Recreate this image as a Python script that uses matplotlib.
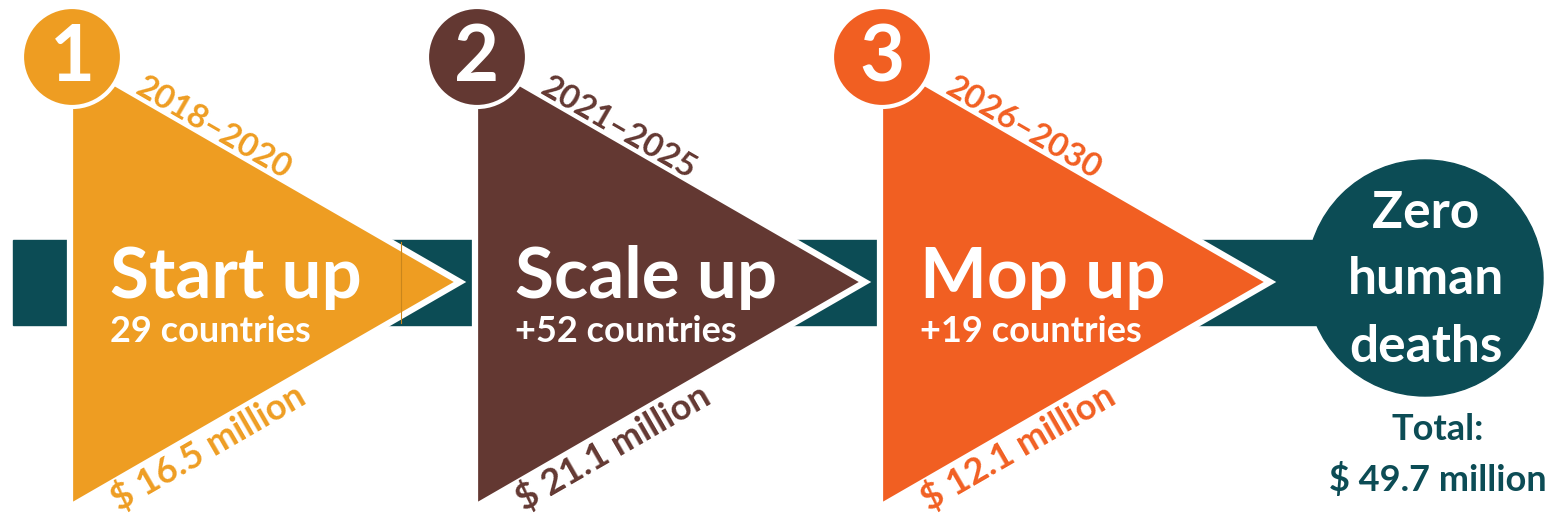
import matplotlib.pyplot as plt
import matplotlib.patches as mpatches
import numpy as np

plt.rcParams['font.family'] = ['Lato', 'DejaVu Sans']

numeros = ['1', '2', '3']
fases = ['Start up', 'Scale up', 'Mop up']
anios = ['2018\u20132020', '2021\u20132025', '2026\u20132030']
paises = ['29 countries', '+52 countries', '+19 countries']
costos = ['$ 16.5 million', '$ 21.1 million', '$ 12.1 million']
colores = ['#EE9D22', '#633832', '#F15F22']
meta = ['Zero', 'human', 'deaths']
total = ['Total:', '$ 49.7 million']
teal = '#0C4C55'

fig = plt.figure(figsize=(15.51, 5.17), dpi=100)
ax = fig.add_axes([0, 0, 1, 1])
ax.set_xlim(0, 1551)
ax.set_ylim(517, 0)
ax.axis('off')

# banda de fondo
ax.add_patch(mpatches.Rectangle((13, 240), 1412, 85, color=teal, zorder=1))

paso = 405
ancho = 390
mitad = 225
cy = 282
for i in range(3):
    x0 = 70 + i*paso
    tri = mpatches.Polygon([[x0, cy-mitad], [x0, cy+mitad], [x0+ancho, cy]],
                           closed=True, facecolor=colores[i], edgecolor='white',
                           linewidth=4.5, joinstyle='miter', zorder=2)
    ax.add_patch(tri)
    ax.add_patch(mpatches.Circle((x0+2, 57), 50, facecolor=colores[i],
                                 edgecolor='white', linewidth=3, zorder=3))
    ax.text(x0+2, 59, numeros[i], color='white', fontsize=56, fontweight='bold',
            ha='center', va='center', zorder=4)
    ax.text(x0+40, 277, fases[i], color='white', fontsize=51, fontweight='bold',
            ha='left', va='center', zorder=4)
    ax.text(x0+40, 331, paises[i], color='white', fontsize=26, fontweight='bold',
            ha='left', va='center', zorder=4)
    ax.text(x0+144, 128, anios[i], color=colores[i], fontsize=24, fontweight='bold',
            ha='center', va='center', rotation=-30, rotation_mode='anchor', zorder=4)
    ax.text(x0+138, 447, costos[i], color=colores[i], fontsize=26, fontweight='bold',
            ha='center', va='center', rotation=30, rotation_mode='anchor', zorder=4)

# linea tenue en el primer triangulo
ax.plot([401, 401], [242, 323], color='#C9861C', linewidth=0.8, zorder=3)

# circulo final
ax.add_patch(mpatches.Circle((1425, 278), 118, color=teal, zorder=2))
for k, t in enumerate(meta):
    ax.text(1426, 213 + k*67, t, color='white', fontsize=37, fontweight='bold',
            ha='center', va='center', zorder=4)
for k, t in enumerate(total):
    ax.text(1438, 430 + k*50, t, color=teal, fontsize=26, fontweight='bold',
            ha='center', va='center', zorder=4)

plt.savefig('out.png', dpi=100)
